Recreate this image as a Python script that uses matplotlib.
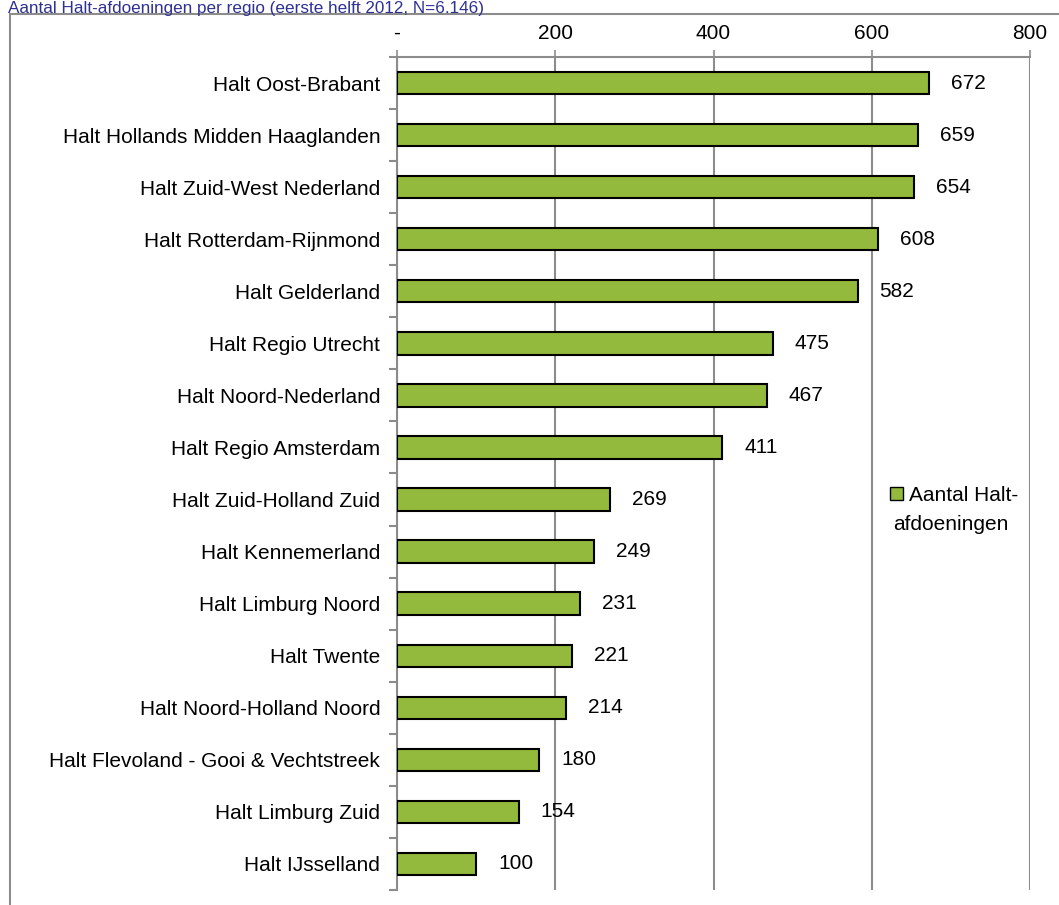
import matplotlib.pyplot as plt
from matplotlib.patches import Patch, Rectangle

plt.rcParams['font.family'] = ['Liberation Sans', 'DejaVu Sans']

# data
regions = ['Halt Oost-Brabant', 'Halt Hollands Midden Haaglanden', 'Halt Zuid-West Nederland',
           'Halt Rotterdam-Rijnmond', 'Halt Gelderland', 'Halt Regio Utrecht',
           'Halt Noord-Nederland', 'Halt Regio Amsterdam', 'Halt Zuid-Holland Zuid',
           'Halt Kennemerland', 'Halt Limburg Noord', 'Halt Twente',
           'Halt Noord-Holland Noord', 'Halt Flevoland - Gooi & Vechtstreek',
           'Halt Limburg Zuid', 'Halt IJsselland']
counts = [672, 659, 654, 608, 582, 475, 467, 411, 269, 249, 231, 221, 214, 180, 154, 100]
x_ticks = [0, 200, 400, 600, 800]
x_ticklabels = ['-', '200', '400', '600', '800']
series_name = 'Aantal Halt-afdoeningen'
title = 'Aantal Halt-afdoeningen per regio (eerste helft 2012, N=6.146)'

green = '#93BA3C'
grey = '#8C8C8C'
fs = 15

fig = plt.figure(figsize=(10.59, 9.05), dpi=100)
ax = fig.add_axes([397 / 1059, 15 / 905, 633 / 1059, 833 / 905])

ypos = list(range(len(regions)))
ax.barh(ypos, counts, height=0.43, color=green, edgecolor='black', linewidth=1.5, zorder=3)

for y, v in zip(ypos, counts):
    ax.annotate(str(v), (v, y), xytext=(22, 0), textcoords='offset pixels',
                va='center', ha='left', fontsize=fs)

ax.set_xlim(0, 800)
ax.set_ylim(len(regions) - 0.5, -0.5)

ax.xaxis.tick_top()
ax.set_xticks(x_ticks)
ax.set_xticklabels(x_ticklabels, fontsize=fs)
ax.tick_params(axis='x', length=5, color=grey, width=1.2, pad=5)
ax.grid(axis='x', color=grey, linewidth=1.5, zorder=0)

ax.set_yticks(ypos)
ax.set_yticklabels(regions, fontsize=fs)
ax.set_yticks([i - 0.5 for i in range(len(regions) + 1)], minor=True)
ax.tick_params(axis='y', which='major', length=0, pad=12)
ax.tick_params(axis='y', which='minor', length=6, color=grey, width=1.5)

for s in ['right', 'bottom']:
    ax.spines[s].set_visible(False)
for s in ['left', 'top']:
    ax.spines[s].set_color(grey)
    ax.spines[s].set_linewidth(1.5)

# legend (text wraps like in the original)
leg = fig.legend(handles=[Patch(facecolor=green, edgecolor='black', linewidth=1)],
                 labels=[series_name[:12]], loc='upper left',
                 bbox_to_anchor=(890 / 1059, 1 - 486 / 905), frameon=False,
                 fontsize=fs, handlelength=0.6, handleheight=0.6,
                 handletextpad=0.3, borderpad=0, borderaxespad=0)
fig.text(893 / 1059, 1 - 524 / 905, series_name[12:], fontsize=fs, va='center', ha='left')

# outer chart frame
fig.patches.append(Rectangle((10 / 1059, -0.05), 1.2, 1 - 14 / 905 + 0.05,
                             transform=fig.transFigure, fill=False,
                             edgecolor=grey, linewidth=1.5))

fig.text(8 / 1059, 1 - 13 / 905, title, fontsize=12.3, color='#2E3192', va='baseline')

fig.savefig('out.png', dpi=100)
